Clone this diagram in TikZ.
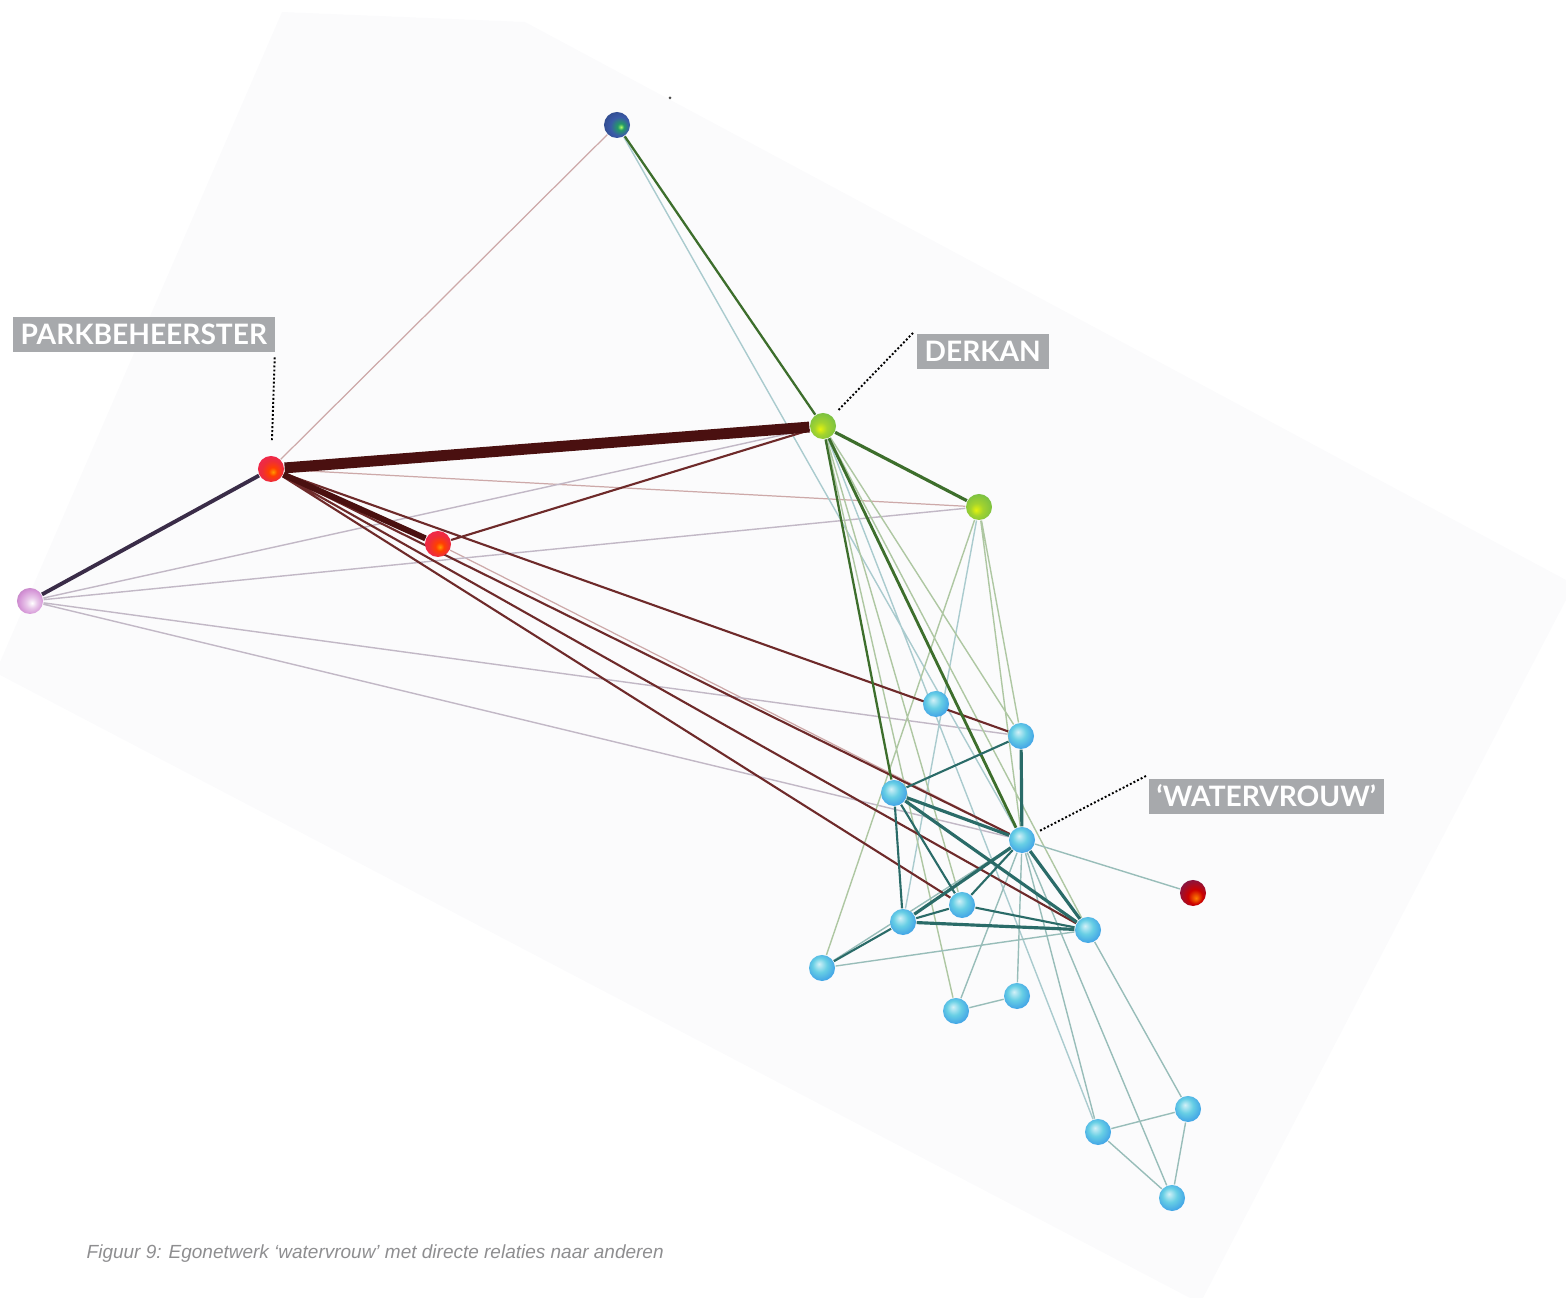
\documentclass[tikz,border=0pt]{standalone}
\usepackage{fontspec}
\setmainfont{Liberation Sans}
\newfontfamily\labelfont{Lato}
\usetikzlibrary{backgrounds}
\definecolor{tagGray}{HTML}{A7A9AC}
\definecolor{planeGray}{HTML}{FBFBFC}
\definecolor{capGray}{HTML}{8E8E90}
\definecolor{topBlue}{HTML}{3A5AA8}
\definecolor{ballRed}{HTML}{EE2C3A}
\definecolor{ballPink}{HTML}{D493D6}
\definecolor{ballLime}{HTML}{7CC142}
\definecolor{ballCyan}{HTML}{4CC6E0}
\definecolor{ballPlum}{HTML}{7E1848}
\definecolor{maroonHeavy}{HTML}{4A1010}
\definecolor{maroonMid}{HTML}{6E2A2A}
\definecolor{purpleMid}{HTML}{3A2C48}
\definecolor{pinkFaint}{HTML}{CDA9A9}
\definecolor{lilacFaint}{HTML}{C2B8C6}
\definecolor{greenDark}{HTML}{3D6E2C}
\definecolor{greenPale}{HTML}{AEC7A2}
\definecolor{bluePale}{HTML}{AACBCE}
\definecolor{tealDark}{HTML}{2A6B68}
\definecolor{tealPale}{HTML}{98BDB9}
\pgfdeclareradialshading{cyanball}{\pgfqpoint{-6bp}{8bp}}{color(0bp)=(ballCyan!25!white);
  color(14bp)=(ballCyan!85!white); color(30bp)=(ballCyan!80!blue); color(44bp)=(ballCyan);
  color(50bp)=(ballCyan!85!black)}
\pgfdeclareradialshading{redball}{\pgfqpoint{4bp}{-6bp}}{color(0bp)=(orange!80!yellow);
  color(8bp)=(orange!50!red); color(20bp)=(ballRed); color(40bp)=(ballRed!80!magenta);
  color(50bp)=(ballRed!75!black)}
\pgfdeclareradialshading{limeball}{\pgfqpoint{-6bp}{-6bp}}{color(0bp)=(yellow!80!ballLime);
  color(12bp)=(ballLime!70!yellow); color(28bp)=(ballLime); color(50bp)=(ballLime!70!black)}
\pgfdeclareradialshading{pinkball}{\pgfqpoint{4bp}{-4bp}}{color(0bp)=(white);
  color(10bp)=(ballPink!50!white); color(24bp)=(ballPink); color(50bp)=(ballPink!65!black)}
\pgfdeclareradialshading{blueball}{\pgfqpoint{8bp}{-4bp}}{color(0bp)=(yellow!50!green!60!white);
  color(6bp)=(green!40!topBlue); color(18bp)=(topBlue); color(50bp)=(topBlue!60!black)}
\pgfdeclareradialshading{plumball}{\pgfqpoint{6bp}{-10bp}}{color(0bp)=(orange);
  color(14bp)=(red!80!black); color(32bp)=(ballPlum); color(50bp)=(ballPlum!70!black)}

\begin{document}
\begin{tikzpicture}[x=0.01cm,y=-0.01cm,
  knoop/.style={circle,inner sep=0pt,minimum size=0.26cm,shading=#1},
  tag/.style={fill=tagGray,text=white,font={\labelfont\bfseries\fontsize{8}{9}\selectfont},
    inner xsep=0.08cm,inner ysep=0.075cm,text height=0.2cm,text depth=0pt,anchor=north west},
  leader/.style={line width=0.55pt,dash pattern=on 0.55pt off 0.6pt},
  redheavy/.style={maroonHeavy,line width=3.1pt},
  redbond/.style={maroonHeavy,line width=1.7pt},
  purplebond/.style={purpleMid,line width=1.1pt},
  redmid/.style={maroonMid,line width=0.6pt},
  pinkline/.style={pinkFaint,line width=0.35pt},
  lilacline/.style={lilacFaint,line width=0.4pt},
  greenmid/.style={greenDark,line width=0.65pt},
  greenline/.style={greenPale,line width=0.4pt},
  blueline/.style={bluePale,line width=0.4pt},
  tealheavy/.style={tealDark,line width=0.9pt},
  tealmid/.style={tealDark,line width=0.6pt},
  tealline/.style={tealPale,line width=0.4pt}]
\useasboundingbox (0,0) rectangle (1566,1298);

\node[knoop=blueball] (top) at (617,125) {};
\node[knoop=redball] (park) at (271,469) {};
\node[knoop=redball] (red) at (438,544) {};
\node[knoop=pinkball] (pink) at (30,601) {};
\node[knoop=limeball] (derkan) at (823,426) {};
\node[knoop=limeball] (lime) at (979,507) {};
\node[knoop=cyanball] (water) at (1022,840) {};
\node[knoop=cyanball] (c1) at (936,704) {};
\node[knoop=cyanball] (c2) at (1021,736) {};
\node[knoop=cyanball] (c3) at (894,793) {};
\node[knoop=cyanball] (c4) at (962,905) {};
\node[knoop=cyanball] (c5) at (903,922) {};
\node[knoop=cyanball] (c6) at (1088,930) {};
\node[knoop=cyanball] (c7) at (822,968) {};
\node[knoop=cyanball] (c8) at (956,1011) {};
\node[knoop=cyanball] (c9) at (1017,996) {};
\node[knoop=cyanball] (c10) at (1098,1132) {};
\node[knoop=cyanball] (c11) at (1188,1109) {};
\node[knoop=cyanball] (c12) at (1172,1198) {};
\node[knoop=plumball] (plum) at (1193,893) {};
\fill[black!70] (670,98) circle (1.5);

\begin{pgfonlayer}{background}
\fill[planeGray] (0,662) -- (282,12) -- (525,22) -- (1566,580) -- (1566,600)
  -- (1203,1298) -- (1190,1298) -- (0,675) -- cycle;

\draw[pinkline] (top) -- (park) (park) -- (lime) (red) -- (water);
\draw[lilacline] (pink) -- (derkan) (pink) -- (lime) (pink) -- (c2) (pink) -- (water);
\draw[blueline] (top) -- (water) (derkan) -- (c10) (lime) -- (c5);
\draw[greenline] (derkan) -- (c2) (derkan) -- (c4) (derkan) -- (c6) (derkan) -- (c8)
  (lime) -- (c7) (lime) -- (c2) (lime) -- (water);
\draw[tealline] (water) -- (plum) (water) -- (c8) (water) -- (c9) (water) -- (c10)
  (water) -- (c12) (c6) -- (c11) (c10) -- (c11) (c10) -- (c12) (c11) -- (c12)
  (c8) -- (c9) (c7) -- (c6) (c7) -- (water);
\draw[redmid] (park) -- (c2) (park) -- (water) (park) -- (c6) (park) -- (c4) (red) -- (derkan);
\draw[greenmid] (top) -- (derkan) (derkan) -- (c3);
\draw[greenmid,line width=0.8pt] (derkan) -- (water);
\draw[greenmid,line width=0.9pt] (derkan) -- (lime);
\draw[tealmid] (c2) -- (c3) (c3) -- (c5) (c3) -- (c4) (c4) -- (water) (c4) -- (c6)
  (c5) -- (c4) (c7) -- (c5);
\draw[tealheavy] (c2) -- (water) (c3) -- (water) (c3) -- (c6) (c5) -- (water)
  (c5) -- (c6) (water) -- (c6);
\draw[purplebond] (park) -- (pink);
\draw[redbond] (park) -- (red);
\draw[redheavy] (park) -- (derkan);
\end{pgfonlayer}

\node[tag] (parklabel) at (12,316) {PARKBEHEERSTER};
\node[tag] (derkanlabel) at (916,333) {DERKAN};
\node[tag] (waterlabel) at (1148,778) {‘WATERVROUW’};
\draw[leader,shorten >=0.13cm] ([xshift=-0.01cm,yshift=-0.05cm]parklabel.south east) -- (park);
\draw[leader,shorten >=0.08cm] ([xshift=-0.03cm]derkanlabel.north west) -- (derkan);
\draw[leader,shorten >=0.06cm] ([xshift=-0.02cm,yshift=0.02cm]waterlabel.north west) -- (water);

\node[anchor=west,inner sep=0pt,text=capGray,font=\itshape\fontsize{5.4}{6.5}\selectfont] (caption) at (86,1254)
  {Figuur 9: Egonetwerk ‘watervrouw’ met directe relaties naar anderen};
\end{tikzpicture}
\end{document}
